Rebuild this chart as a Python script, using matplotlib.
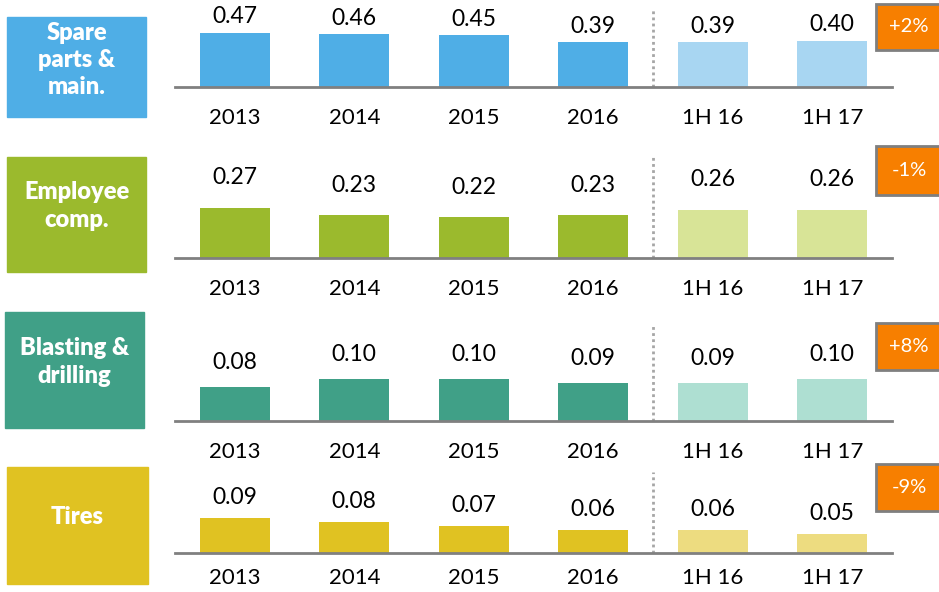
import matplotlib.pyplot as plt
from matplotlib.patches import Rectangle

# categories and values
periods = ['2013', '2014', '2015', '2016', '1H 16', '1H 17']
spare_parts = [0.47, 0.46, 0.45, 0.39, 0.39, 0.40]
employee = [0.27, 0.23, 0.22, 0.23, 0.26, 0.26]
blasting = [0.08, 0.10, 0.10, 0.09, 0.09, 0.10]
tires = [0.09, 0.08, 0.07, 0.06, 0.06, 0.05]

row_names = ['Spare\nparts &\nmain.', 'Employee\ncomp.', 'Blasting &\ndrilling', 'Tires']
changes = ['+2%', '-1%', '+8%', '-9%']
series = [spare_parts, employee, blasting, tires]

dark = ['#4FAEE6', '#9BBA2D', '#40A087', '#E0C222']
light = ['#A8D6F2', '#D8E497', '#AEDFD2', '#EDDC80']

plt.rcParams['font.family'] = ['Lato', 'DejaVu Sans']

W, H = 939, 592
fig = plt.figure(figsize=(W / 100, H / 100), dpi=100)

# per-row layout in pixels: baseline, top of axes, y max, label offset
baselines = [87, 258, 421, 553]
tops = [8, 155, 325, 472]
ymax = [0.687, 0.554, 0.226, 0.208]
label_pad = [4, 14, 10, 7]
tick_pad = [15, 15, 15, 11]
boxes = [(7, 17, 139, 100), (7, 157, 139, 115), (5, 312, 139, 116), (7, 467, 141, 117)]
text_y = [60, 206, 362, 517]
badges = [(876, 4, 46), (876, 146, 49), (876, 323, 47), (876, 464, 47)]

x0, x1 = 175, 892
for i, vals in enumerate(series):
    ax = fig.add_axes([x0 / W, 1 - baselines[i] / H, (x1 - x0) / W, (baselines[i] - tops[i]) / H])
    cols = [dark[i]] * 4 + [light[i]] * 2
    bars = ax.bar(range(len(periods)), vals, width=0.585, color=cols)
    for b, v in zip(bars, vals):
        ax.annotate(f'{v:.2f}', (b.get_x() + b.get_width() / 2, v), xytext=(0, label_pad[i]),
                    textcoords='offset points', ha='center', va='bottom', fontsize=16.5)
    ax.axvline(3.5, color='#A6A6A6', linestyle=(0, (1, 1.2)), linewidth=2)
    ax.set_xlim(-0.5, 5.5)
    ax.set_ylim(0, ymax[i])
    ax.set_xticks(range(len(periods)))
    ax.set_xticklabels(periods, fontsize=16)
    ax.tick_params(axis='x', length=0, pad=tick_pad[i])
    ax.set_yticks([])
    for s in ['top', 'right', 'left']:
        ax.spines[s].set_visible(False)
    ax.spines['bottom'].set_color('#808080')
    ax.spines['bottom'].set_linewidth(2)
    ax.patch.set_alpha(0)

    # label box on the left
    bx, by, bw, bh = boxes[i]
    fig.patches.append(Rectangle((bx / W, 1 - (by + bh) / H), bw / W, bh / H,
                                 transform=fig.transFigure, color=dark[i]))
    fig.text((bx + bw / 2) / W, 1 - text_y[i] / H, row_names[i], color='white', fontsize=17,
             fontweight='heavy', ha='center', va='center', linespacing=1.3)

    # orange change badge
    gx, gy, gh = badges[i]
    fig.patches.append(Rectangle((gx / W, 1 - (gy + gh) / H), 80 / W, gh / H,
                                 transform=fig.transFigure, facecolor='#F77F00',
                                 edgecolor='#7F7F7F', linewidth=2))
    fig.text(909 / W, 1 - (gy + gh / 2) / H, changes[i], color='white', fontsize=14.5,
             ha='center', va='center')

fig.savefig('out.png', dpi=100)
